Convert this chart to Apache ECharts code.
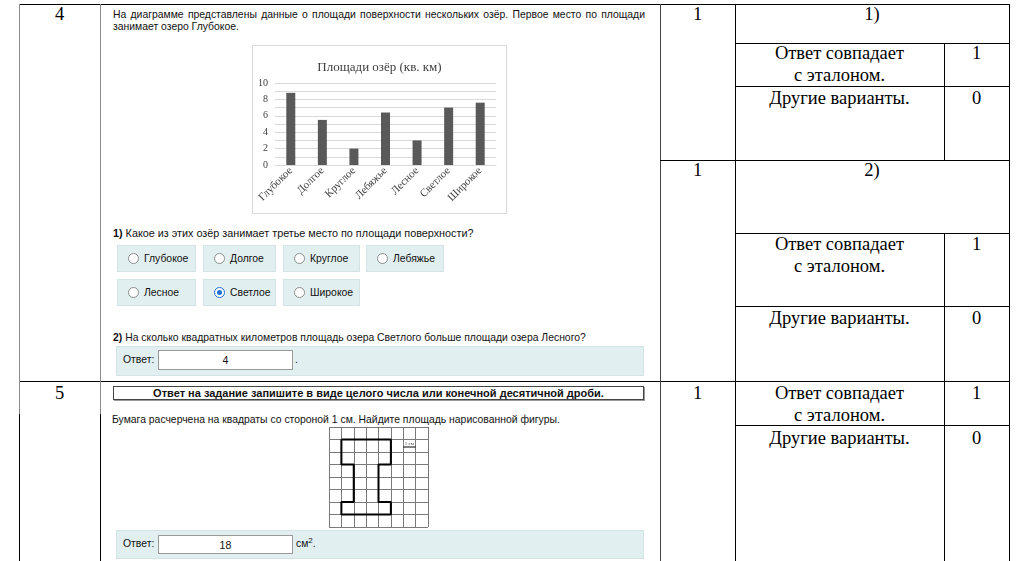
<!DOCTYPE html>
<html><head><meta charset="utf-8">
<script src="https://cdn.jsdelivr.net/npm/echarts@6/dist/echarts.min.js"></script>
<style>
html,body{margin:0;padding:0;background:#fff;}
body{width:1024px;height:561px;position:relative;overflow:hidden;}
.h{position:absolute;height:1px;background:#000;}
.v{position:absolute;width:1px;background:#000;}
.t{position:absolute;font-family:"Liberation Serif","Times New Roman",serif;font-size:18.5px;color:#000;line-height:22px;white-space:nowrap;text-align:center;}
.s{position:absolute;font-family:"Liberation Sans",Arial,sans-serif;font-size:10.4px;color:#111;line-height:12px;white-space:nowrap;}
.opt{position:absolute;background:#e1eff0;border:1px solid #d3e4e6;box-sizing:border-box;height:27px;display:flex;align-items:center;padding-left:10px;font-family:"Liberation Sans",Arial,sans-serif;font-size:10.4px;color:#111;}
.r{width:11px;height:11px;border-radius:50%;border:1px solid #8d8d8d;background:#fff;box-sizing:border-box;margin-right:5px;position:relative;}
.r.on{border-color:#1f6fd6;}
.r.on::after{content:"";position:absolute;left:2px;top:2px;width:5px;height:5px;border-radius:50%;background:#1f6fd6;}
.ans{position:absolute;background:#e1eff0;border:1px solid #d3e4e6;box-sizing:border-box;}
.inp{position:absolute;background:#fff;border:1px solid #9a9a9a;box-sizing:border-box;text-align:center;font-family:"Liberation Sans",Arial,sans-serif;font-size:10.6px;color:#111;line-height:18px;}
</style></head><body>

<!-- table lines -->
<div class="h" style="left:19px;top:4px;width:991px;"></div>
<div class="h" style="left:19px;top:381px;width:991px;"></div>
<div class="v" style="left:19px;top:4px;height:410px;background:#8a8a8a;"></div>
<div class="v" style="left:19px;top:414px;height:147px;"></div>
<div class="v" style="left:100px;top:4px;height:410px;background:#8a8a8a;"></div>
<div class="v" style="left:100px;top:414px;height:147px;"></div>
<div class="v" style="left:660px;top:4px;height:557px;background:#444;"></div>
<div class="v" style="left:735px;top:4px;height:557px;"></div>
<div class="v" style="left:1009px;top:4px;height:557px;"></div>
<div class="v" style="left:944px;top:43px;height:117px;"></div>
<div class="v" style="left:944px;top:233px;height:328px;"></div>
<div class="h" style="left:735px;top:43px;width:275px;"></div>
<div class="h" style="left:735px;top:86px;width:275px;"></div>
<div class="h" style="left:660px;top:160px;width:350px;"></div>
<div class="h" style="left:735px;top:233px;width:275px;"></div>
<div class="h" style="left:735px;top:306px;width:275px;"></div>
<div class="h" style="left:735px;top:425px;width:275px;"></div>

<!-- right column texts -->
<div class="t" style="left:19px;width:81px;top:3px;">4</div>
<div class="t" style="left:19px;width:81px;top:382px;">5</div>

<div class="t" style="left:660px;width:75px;top:3px;">1</div>
<div class="t" style="left:735px;width:274px;top:3px;">1)</div>
<div class="t" style="left:735px;width:209px;top:42px;">Ответ совпадает<br>с эталоном.</div>
<div class="t" style="left:944px;width:65px;top:42px;">1</div>
<div class="t" style="left:735px;width:209px;top:87px;">Другие варианты.</div>
<div class="t" style="left:944px;width:65px;top:87px;">0</div>

<div class="t" style="left:660px;width:75px;top:159px;">1</div>
<div class="t" style="left:735px;width:274px;top:159px;">2)</div>
<div class="t" style="left:735px;width:209px;top:233px;">Ответ совпадает<br>с эталоном.</div>
<div class="t" style="left:944px;width:65px;top:233px;">1</div>
<div class="t" style="left:735px;width:209px;top:307px;">Другие варианты.</div>
<div class="t" style="left:944px;width:65px;top:307px;">0</div>

<div class="t" style="left:660px;width:75px;top:382px;">1</div>
<div class="t" style="left:735px;width:209px;top:382px;">Ответ совпадает<br>с эталоном.</div>
<div class="t" style="left:944px;width:65px;top:382px;">1</div>
<div class="t" style="left:735px;width:209px;top:427px;">Другие варианты.</div>
<div class="t" style="left:944px;width:65px;top:427px;">0</div>

<!-- task 4 -->
<div class="s" style="left:113px;top:9px;width:532px;text-align:justify;text-align-last:justify;">На диаграмме представлены данные о площади поверхности нескольких озёр. Первое место по площади</div>
<div class="s" style="left:113px;top:21px;">занимает озеро Глубокое.</div>

<div style="position:absolute;left:252px;top:45px;width:255px;height:169px;border:1px solid #d9d9d9;box-sizing:border-box;">
  <div id="bar" style="position:absolute;left:0;top:0;width:253px;height:167px;"></div>
</div>

<div class="s" style="left:113px;top:227px;font-size:10.8px;"><b>1)</b> Какое из этих озёр занимает третье место по площади поверхности?</div>

<div class="opt" style="left:117px;top:245px;width:79px;"><span class="r"></span>Глубокое</div>
<div class="opt" style="left:203px;top:245px;width:73px;"><span class="r"></span>Долгое</div>
<div class="opt" style="left:283px;top:245px;width:77px;"><span class="r"></span>Круглое</div>
<div class="opt" style="left:366px;top:245px;width:78px;"><span class="r"></span>Лебяжье</div>
<div class="opt" style="left:117px;top:279px;width:79px;"><span class="r"></span>Лесное</div>
<div class="opt" style="left:203px;top:279px;width:73px;"><span class="r on"></span>Светлое</div>
<div class="opt" style="left:283px;top:279px;width:77px;"><span class="r"></span>Широкое</div>

<div class="s" style="left:113px;top:332px;"><b>2)</b> На сколько квадратных километров площадь озера Светлого больше площади озера Лесного?</div>
<div class="ans" style="left:116px;top:346px;width:528px;height:30px;"></div>
<div class="s" style="left:123px;top:354px;">Ответ:</div>
<div class="inp" style="left:158px;top:350px;width:135px;height:20px;">4</div>
<div class="s" style="left:295px;top:354px;">.</div>

<!-- task 5 -->
<div class="s" style="left:113px;top:386px;width:531px;height:14px;border:1px solid #444;box-shadow:1px 1px 0 #999;box-sizing:border-box;text-align:center;font-weight:bold;font-size:11px;line-height:12px;">Ответ на задание запишите в виде целого числа или конечной десятичной дроби.</div>
<div class="s" style="left:112px;top:414px;">Бумага расчерчена на квадраты со стороной 1 см. Найдите площадь нарисованной фигуры.</div>

<div id="fig" style="position:absolute;left:327px;top:425px;width:103px;height:104px;"></div>

<div class="ans" style="left:116px;top:530px;width:528px;height:29px;"></div>
<div class="s" style="left:123px;top:538px;">Ответ:</div>
<div class="inp" style="left:158px;top:535px;width:135px;height:19px;">18</div>
<div class="s" style="left:296px;top:538px;">см<sup style="font-size:8px;line-height:0;">2</sup>.</div>

<script>
// --- bar chart data ---
const lakes = ['Глубокое', 'Долгое', 'Круглое', 'Лебяжье', 'Лесное', 'Светлое', 'Широкое'];
const areas = [8.8, 5.5, 2, 6.4, 3, 7, 7.6];
const yMin = 0, yMax = 10, yStep = 1, yLabelStep = 2;
const chartTitle = 'Площади озёр (кв. км)';

// --- figure (squared paper) data ---
const gridCols = 8, gridRows = 8;
const shapeX = [1, 5, 5, 4, 4, 5, 5, 1, 1, 2, 2, 1, 1];
const shapeY = [1, 1, 3, 3, 6, 6, 7, 7, 6, 6, 3, 3, 1];
const scaleBarX = [6, 7];
const scaleBarY = [1.6, 1.6];
const scaleLabel = '1 см';

const serif = 'Liberation Serif';
const bar = echarts.init(document.getElementById('bar'));
bar.setOption({
  animation: false,
  title: { text: chartTitle, left: 'center', top: 10,
    textStyle: { fontFamily: serif, fontSize: 13, fontWeight: 'normal', color: '#404040' } },
  grid: { left: 22, right: 10, top: 37, bottom: 48 },
  xAxis: { type: 'category', data: lakes,
    axisLine: { lineStyle: { color: '#d9d9d9' } }, axisTick: { show: false },
    axisLabel: { rotate: 45, interval: 0, fontFamily: serif, fontSize: 11, color: '#404040', margin: 4 } },
  yAxis: { type: 'value', min: yMin, max: yMax, interval: yStep,
    axisLine: { show: false }, axisTick: { show: false },
    splitLine: { lineStyle: { color: '#d9d9d9' } },
    axisLabel: { formatter: v => (v % yLabelStep === 0 ? String(v) : ''), fontFamily: serif, fontSize: 10, color: '#404040', margin: 7 } },
  series: [{ type: 'bar', data: areas, barWidth: 9, itemStyle: { color: '#595959' } }]
});

const fig = echarts.init(document.getElementById('fig'));
fig.setOption({
  animation: false,
  grid: { left: 2, right: 2, top: 2, bottom: 2 },
  xAxis: { type: 'value', min: 0, max: gridCols, interval: 1,
    axisLabel: { show: false }, axisTick: { show: false }, axisLine: { show: false },
    splitLine: { show: true, lineStyle: { color: '#7a7a7a', width: 1 } } },
  yAxis: { type: 'value', min: 0, max: gridRows, interval: 1, inverse: true,
    axisLabel: { show: false }, axisTick: { show: false }, axisLine: { show: false },
    splitLine: { show: true, lineStyle: { color: '#7a7a7a', width: 1 } } },
  series: [
    { type: 'line', data: shapeX.map((x, i) => [x, shapeY[i]]), symbol: 'none',
      lineStyle: { color: '#000', width: 2 }, z: 5 },
    { type: 'line', data: scaleBarX.map((x, i) => [x, scaleBarY[i]]), symbol: 'none',
      lineStyle: { color: '#000', width: 1 }, z: 5 },
    { type: 'scatter', data: [[(scaleBarX[0] + scaleBarX[1]) / 2, scaleBarY[0]]], symbolSize: 0,
      label: { show: true, formatter: scaleLabel, position: 'top', distance: 1,
        fontFamily: serif, fontSize: 5, color: '#000', backgroundColor: '#fff' }, z: 6 }
  ]
});
</script>
</body></html>
